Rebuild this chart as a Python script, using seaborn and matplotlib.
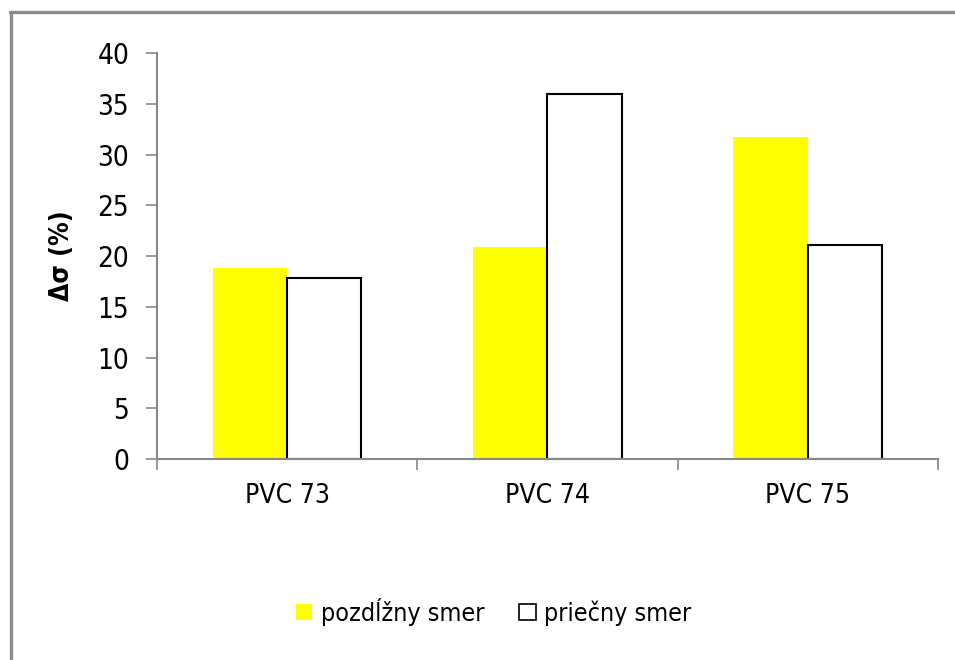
import seaborn as sns
import matplotlib.pyplot as plt
import pandas as pd
from matplotlib.lines import Line2D

# data
samples = ['PVC 73', 'PVC 74', 'PVC 75']
series = ['pozdĺžny smer', 'priečny smer']
pozdlzny = [18.8, 20.9, 31.7]
priecny = [17.8, 36.0, 21.1]
y_ticks = [0, 5, 10, 15, 20, 25, 30, 35, 40]

df = pd.DataFrame({
    'vzorka': samples * 2,
    'smer': [series[0]] * 3 + [series[1]] * 3,
    'hodnota': pozdlzny + priecny,
})

sns.set_style('white')
plt.rcParams['font.family'] = ['DejaVu Sans']
plt.rcParams['font.stretch'] = 'condensed'
plt.rcParams['text.color'] = 'black'
plt.rcParams['axes.labelcolor'] = 'black'
plt.rcParams['xtick.labelcolor'] = 'black'
plt.rcParams['ytick.labelcolor'] = 'black'

fig = plt.figure(figsize=(9.55, 6.6), dpi=100)
ax = fig.add_axes([0.1644, 0.3045, 0.8176, 0.6152])

sns.barplot(data=df, x='vzorka', y='hodnota', hue='smer', saturation=1,
            palette=['#ffff00', '#ffffff'], width=0.57, ax=ax, legend=False)

# white bars get a black outline, yellow ones none
for i, bar in enumerate(ax.patches):
    if i < 3:
        bar.set_edgecolor('#ffff00')
        bar.set_linewidth(0)
    else:
        bar.set_edgecolor('black')
        bar.set_linewidth(1.5)

ax.set_xlim(-0.5, 2.5)
ax.set_ylim(0, 40)
ax.set_yticks(y_ticks)
ax.set_xlabel('')
ax.set_ylabel('Δσ (%)', fontsize=19, fontweight='bold', labelpad=16)

for s in ['top', 'right']:
    ax.spines[s].set_visible(False)
for s in ['left', 'bottom']:
    ax.spines[s].set_color('#888888')
    ax.spines[s].set_linewidth(1.5)

ax.tick_params(axis='y', direction='out', length=8, width=1.2, color='#888888',
               labelsize=20, pad=12, left=True)
ax.set_xticks([-0.5, 0.5, 1.5, 2.5], minor=True)
ax.tick_params(axis='x', which='minor', direction='out', length=8, width=1.2,
               color='#888888', bottom=True)
ax.tick_params(axis='x', which='major', length=0, labelsize=19, pad=17)

handles = [
    plt.Rectangle((0, 0), 1, 1, facecolor='#ffff00', edgecolor='none'),
    plt.Rectangle((0, 0), 1, 1, facecolor='white', edgecolor='black', linewidth=1.2),
]
fig.legend(handles, series, loc='center', bbox_to_anchor=(0.517, 0.073), ncol=2,
           frameon=False, fontsize=18, handlelength=0.65, handleheight=0.65,
           handletextpad=0.35, columnspacing=1.4)

# gray outer frame, cut off at right and bottom
frame_col = '#8c8c8c'
fig.add_artist(Line2D([0.0115, 0.0115], [0, 1 - 12 / 660], transform=fig.transFigure,
                      color=frame_col, linewidth=2.4))
fig.add_artist(Line2D([0.0102, 1], [1 - 12 / 660, 1 - 12 / 660], transform=fig.transFigure,
                      color=frame_col, linewidth=2.4))

fig.savefig('out.png', dpi=100)
